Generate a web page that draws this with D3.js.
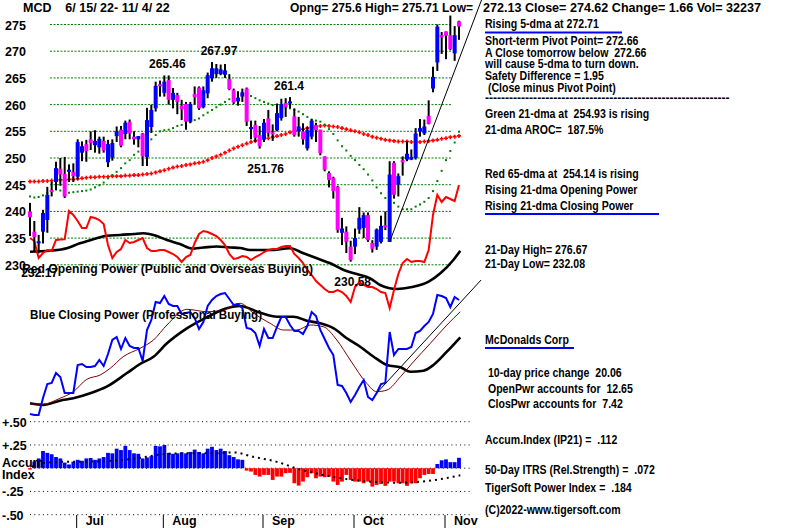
<!DOCTYPE html>
<html>
<head>
<meta charset="utf-8">
<script src="https://cdnjs.cloudflare.com/ajax/libs/d3/7.8.5/d3.min.js"></script>
<style>
  body { margin: 0; background: #fff; }
  svg text { font-family: "Liberation Sans", Arial, sans-serif; font-weight: bold; fill: #000; }
</style>
</head>
<body>
<svg></svg>
<script>
// MCD daily bars, 6/15/22 - 11/4/22 (100 trading days)
const opens = [240.0,236.2,234.1,236.2,238.4,244.0,245.5,248.0,247.0,247.4,
  247.4,246.5,251.0,252.6,253.5,252.4,252.0,253.2,249.2,250.1,
  254.1,255.3,254.5,256.8,254.0,253.5,254.6,250.2,255.8,259.3,
  263.8,262.2,264.6,260.9,261.8,259.8,260.1,256.8,262.0,263.2,
  259.5,262.1,264.9,265.7,265.7,265.6,264.8,262.7,260.6,261.5,
  263.0,255.4,256.2,254.3,253.5,257.4,254.8,255.2,257.5,260.3,
  260.2,257.8,255.0,255.0,251.8,254.0,256.2,255.3,250.3,247.2,
  246.3,244.6,236.0,236.2,233.4,233.4,236.6,236.9,239.3,234.1,
  233.4,234.3,237.4,234.3,249.1,245.0,249.6,249.7,249.7,250.0,
  255.0,254.6,257.9,263.0,267.9,273.0,273.7,273.0,269.6,275.6]
const highs = [241.6,238.2,235.6,240.3,244.6,245.6,249.3,250.0,250.2,248.8,
  249.0,253.5,253.1,253.4,255.0,255.2,254.0,254.0,253.4,253.5,
  255.9,256.0,257.0,257.2,255.0,254.1,254.7,259.4,260.0,264.3,
  264.5,265.46,265.46,263.1,262.2,260.9,260.5,260.5,263.4,263.4,
  263.4,266.0,267.97,267.6,267.5,267.6,265.7,263.0,262.5,263.0,
  263.2,257.0,257.0,256.0,257.3,259.0,256.3,260.2,261.1,261.2,
  261.4,259.3,257.7,256.5,255.8,257.3,256.6,255.3,250.3,247.5,
  246.5,244.8,238.8,237.2,234.5,236.8,240.8,239.8,239.8,234.6,
  236.8,239.2,240.0,249.4,249.4,247.1,250.3,253.1,251.6,255.6,
  257.3,257.2,260.8,267.1,275.0,273.6,273.7,276.67,274.7,275.71]
const lows = [235.4,232.5,232.17,234.0,236.0,242.8,244.0,244.8,242.5,245.5,
  245.5,246.0,249.4,249.3,251.5,251.0,250.8,251.0,248.3,249.5,
  253.0,252.0,253.5,253.5,252.5,252.0,248.5,248.5,254.7,258.7,
  261.5,261.5,260.0,259.3,258.2,257.1,255.3,256.5,260.0,259.0,
  259.3,261.2,264.3,265.0,265.5,265.0,262.7,260.1,259.8,260.5,
  256.0,253.5,253.0,251.76,253.0,254.0,253.2,255.0,257.0,257.7,
  259.3,254.0,254.0,252.5,251.4,253.5,253.0,250.5,247.5,244.5,
  242.4,236.0,233.7,232.2,230.58,232.0,235.8,235.0,234.3,232.3,
  232.8,234.0,236.5,234.3,242.4,242.8,246.7,249.4,249.6,249.7,
  254.0,254.3,256.3,262.3,266.3,269.5,268.5,270.2,268.2,272.13]
const closes = [238.9,235.2,234.4,239.7,243.1,243.7,248.1,246.9,242.8,247.8,
  246.6,253.0,252.2,251.3,252.8,253.2,253.6,251.4,252.6,252.8,
  255.0,252.3,256.6,254.6,253.5,254.1,250.3,257.1,259.0,263.5,
  263.5,264.3,260.9,262.2,260.5,259.1,256.8,260.1,261.4,259.3,
  262.7,265.5,266.8,266.8,266.6,266.4,262.9,260.4,261.3,262.3,
  256.8,255.8,253.8,252.2,256.6,254.7,254.5,258.4,260.1,259.5,
  260.6,254.3,255.9,253.5,255.2,257.0,255.2,250.9,247.8,245.9,
  243.8,236.5,236.8,234.3,230.9,235.0,238.8,239.3,234.6,233.0,
  236.6,237.3,237.1,246.9,243.1,246.6,249.2,250.8,250.2,254.6,
  255.6,255.9,256.4,265.2,274.6,272.6,272.9,270.4,273.0,274.62]

// moving averages (read per day)
const ma21 = [242.8,242.6,242.7,243.0,243.4,243.9,244.1,243.9,243.6,243.5,
  243.6,243.7,243.8,243.9,244.1,244.5,244.9,245.4,246.2,246.8,
  247.4,248.1,249.0,249.6,250.6,251.2,251.8,252.4,253.5,254.3,
  255.0,255.2,255.3,255.6,256.0,256.2,256.5,256.8,257.1,257.4,
  258.0,258.5,259.0,259.5,260.0,260.5,261.0,261.5,261.9,262.2,
  262.0,261.6,261.2,260.8,260.5,260.2,259.9,259.7,259.5,259.4,
  259.3,259.0,258.7,258.2,257.7,257.2,257.0,256.8,256.2,255.4,
  254.5,253.3,252.2,251.4,250.4,249.6,248.7,247.9,246.9,245.8,
  244.5,243.4,242.5,242.0,241.6,240.9,240.4,240.4,240.4,240.9,
  241.3,241.8,242.5,243.8,245.7,247.6,249.6,251.3,252.9,254.93]
const ma65 = [245.6,245.6,245.6,245.7,245.7,245.8,245.8,245.9,245.9,246.0,
  246.0,246.1,246.2,246.3,246.4,246.4,246.5,246.5,246.5,246.6,
  246.6,246.6,246.7,246.7,246.8,246.8,246.9,247.0,247.1,247.3,
  247.5,247.7,248.0,248.2,248.4,248.5,248.7,248.8,249.0,249.1,
  249.3,249.6,250.0,250.3,250.6,251.0,251.4,251.8,252.1,252.4,
  252.7,253.0,253.2,253.4,253.6,253.7,253.9,254.1,254.3,254.5,
  254.8,255.0,255.2,255.4,255.6,255.8,255.9,256.0,256.1,256.0,
  255.9,255.8,255.6,255.4,255.2,255.0,254.8,254.5,254.3,254.0,
  253.8,253.6,253.4,253.3,253.2,253.1,253.1,253.1,253.0,253.0,
  253.0,253.1,253.2,253.3,253.4,253.6,253.7,253.9,254.0,254.14]

// Red Opening Power and Blue Closing Power (relative units)
const openPower = [62,59,42,47,50,49,60,60.5,60.7,89,
  85,79,72,72,83,82,80,76,55,42,
  48,51,60,57,58,60,62,52,49,49,
  50,50,48,46,43,38,43,45,57,66,
  69,68,66,64,60,55,46,41,42,44,
  43,40,43,45,48,50,51,51,53,54,
  54,46,42,37,30,25,19,15,11,8,
  8,10,8,4,-2,13,18,15,13,13,
  11,8,7,-8,10,26,37,41,38,39,
  39,38,50,85,105,98,103,101,99,115]
const openPowerMA = [[0,48.3],[4.6,49.3],[8.5,51.7],[11.5,56.7],[14.6,60.7],[17.7,64.3],
  [20.8,65],[23.9,66],[26.2,66.7],[28.5,65],[31.6,60],[34.6,56],[37.3,51.5],[40,52.5],
  [43.1,53.5],[46.2,52.5],[48.5,52],[50.8,50],[55.4,50],[60,51.7],[63.1,46.7],[66.2,41.7],
  [69.3,36.7],[72.4,30],[75.4,26],[78.5,21.7],[80.8,15],[84.7,11],[87.8,12.7],[92,18.3],
  [94.7,26.7],[97.7,40],[99.3,49.3]]
const closePower = [16,15,15,32,46,47,57,53,37,37,
  37,65,66,63,63,64,70,64,76,90,
  93,81,92,84,82,82,69,100,110,128,
  127,134,126,124,124,116,117,118,112,101,
  108,124,130,134,136,137,131,125,126,122,
  102,101,97,84,101,92,92,103,113,113,
  105,99,99,96,104,118,114,100,91,82,
  75,45,44,37,28,35,43,50,33,30,
  37,46,47,98,75,81,81,81,83,97,
  99,104,108,116,135,134,132,123,133,130]
const closePowerFast = [[0,26],[3.1,26],[6.9,31.7],[10,38.3],[13.1,50.7],[16.2,55],
  [18.5,61.7],[21.5,73.3],[25.4,81.7],[28.5,90],[31.6,105],[36.2,120.7],[40.8,118.3],
  [44.6,120],[48.5,126.7],[51.6,116.7],[55.4,106.7],[58.5,100],[61.6,100],[64.7,105],
  [67.7,103.3],[70.8,90],[73.9,70],[77.7,46.7],[80,38.3],[82.4,40],[85.5,53.3],
  [88.5,68.3],[92.4,86.7],[96.2,105],[99.3,118.3]]
const closePowerSlow = [[0,26.7],[3.1,25],[6.9,29.3],[10,31.7],[13.9,36.7],[17.7,43.3],
  [22.3,56.7],[25.4,66],[28.5,73.3],[31.6,86.7],[36.2,101.7],[40.8,112.7],[45.4,121.7],
  [48.5,124],[53.1,117.3],[57,113.3],[60.8,113.3],[63.9,109.3],[67,106.7],[70.1,101.7],
  [73.1,91.7],[76.2,83.3],[79.3,73.3],[82.4,65],[85.5,62.7],[87.8,58.3],[90.8,59.3],
  [93.1,65],[96.2,78.3],[99.3,92.7]]

// trend lines [day, value]
const priceTrend = [[83, 234.3], [104.2, 279.6]]
const powerTrend = [[80.3, 38.3], [104.1, 150]]

// Accumulation Index (IP21)
const accum = [-0.015,0.07,0.105,0.185,0.165,0.15,0.12,0.105,0.06,0.04,
  0.07,0.09,0.08,0.105,0.11,0.09,0.105,0.12,0.165,0.16,
  0.21,0.195,0.24,0.195,0.16,0.155,0.105,0.115,0.13,0.24,
  0.235,0.25,0.165,0.155,0.16,0.17,0.16,0.175,0.2,0.175,
  0.16,0.21,0.23,0.195,0.21,0.185,0.14,0.12,0.095,0.09,
  -0.026,-0.036,-0.072,-0.09,-0.072,-0.072,-0.126,-0.09,-0.09,-0.054,
  -0.05,-0.162,-0.187,-0.144,-0.097,-0.054,-0.108,-0.09,-0.097,-0.09,
  -0.144,-0.18,-0.144,-0.072,-0.126,-0.144,-0.144,-0.162,-0.144,-0.198,
  -0.18,-0.169,-0.19,-0.144,-0.144,-0.162,-0.162,-0.19,-0.162,-0.162,
  -0.108,-0.072,-0.062,-0.062,0.045,0.085,0.095,0.065,0.065,0.112]
const accumMA = [[0.4,0.015],[3,0.055],[9.2,0.07],[12.2,0.07],[23.8,0.1],[30.7,0.15],
  [36.2,0.16],[42.3,0.16],[47,0.17],[51.5,0.123],[57,0.068],[61.6,-0.003],[66.2,-0.058],
  [70.8,-0.101],[75.4,-0.13],[80,-0.149],[85.4,-0.156],[91.6,-0.138],[95.4,-0.112],[99.3,-0.076]]

const priceTicks = [275, 270, 265, 260, 255, 250, 245, 240, 235, 230]
const accumTicks = [0.5, 0.25, 0, -0.25, -0.5]
const accumTickLabels = ['+.50', '+.25', '', '-.25', '-.50']
const months = ['Jul', 'Aug', 'Sep', 'Oct', 'Nov']
const monthStart = [11, 31, 54, 75, 96]

const peakLabels = [
  { day: 31, price: 265.46, text: '265.46', pos: 'above', dx: 3 },
  { day: 42, price: 267.97, text: '267.97', pos: 'above', dx: 7 },
  { day: 60, price: 261.4, text: '261.4', pos: 'above', dx: -1 },
  { day: 53, price: 251.76, text: '251.76', pos: 'below', dx: 6 },
  { day: 2, price: 232.17, text: '232.17', pos: 'below', dx: 1 },
  { day: 74, price: 230.58, text: '230.58', pos: 'below', dx: 2 }
]

const headerLeft = 'MCD    6/ 15/ 22- 11/ 4/ 22'
const headerMid = 'Opng= 275.6 High= 275.71 Low='
const headerRight = '272.13 Close= 274.62 Change= 1.66 Vol= 32237'

const sideLines = [
  { y: 28.5, t: 'Rising 5-dma at 272.71', u: 622 },
  { y: 45, t: 'Short-term Pivot Point= 272.66' },
  { y: 57, t: 'A Close tomorrow below  272.66' },
  { y: 68.5, t: 'will cause 5-dma to turn down.' },
  { y: 80.5, t: 'Safety Difference = 1.95' },
  { y: 92.5, t: ' (Close minus Pivot Point)' },
  { y: 118, t: 'Green 21-dma at  254.93 is rising' },
  { y: 134, t: '21-dma AROC=  187.5%' },
  { y: 178, t: 'Red 65-dma at  254.14 is rising' },
  { y: 194.5, t: 'Rising 21-dma Opening Power' },
  { y: 210, t: 'Rising 21-dma Closing Power', u: 659 },
  { y: 254.5, t: '21-Day High= 276.67' },
  { y: 268, t: '21-Day Low= 232.08' },
  { y: 344, t: 'McDonalds Corp', u: 574 },
  { y: 377.5, t: ' 10-day price change  20.06' },
  { y: 393, t: ' OpenPwr accounts for  12.65' },
  { y: 408.5, t: ' ClosPwr accounts for  7.42' },
  { y: 444.5, t: 'Accum.Index (IP21) =  .112' },
  { y: 474.5, t: '50-Day ITRS (Rel.Strength) =  .072' },
  { y: 492.5, t: 'TigerSoft Power Index =  .184' },
  { y: 514.5, t: '(C)2022-www.tigersoft.com' }
]

// ---------- setup ----------
let width = 800
let height = 528
let svg = d3.select('svg').attr('width', width).attr('height', height)

let xScale = d3.scaleLinear().domain([0, 99]).range([30, 459])
let yScale = d3.scaleLinear().domain([230, 275]).range([264.8, 24.5])
let opScale = d3.scaleLinear().domain([0, 100]).range([300, 200])
let cpScale = d3.scaleLinear().domain([0, 100]).range([430, 330])
let accScale = d3.scaleLinear().domain([-0.5, 0.5]).range([514.7, 421.7])

// price grid
svg.append('g').selectAll('line').data(priceTicks).enter().append('line')
  .attr('x1', 50).attr('x2', 452)
  .attr('y1', d => yScale(d)).attr('y2', d => yScale(d))
  .attr('stroke', '#008000').attr('stroke-dasharray', '2,1.5')

svg.append('g').selectAll('text').data(priceTicks).enter().append('text')
  .attr('x', 5).attr('y', d => yScale(d) + 5)
  .style('font-size', '12.5px')
  .text(d => d)

// 65-dma red crosses
svg.append('g').selectAll('path').data(ma65).enter().append('path')
  .attr('d', (d, i) => {
    let x = xScale(i), y = yScale(d)
    return 'M' + (x - 2) + ',' + y + 'H' + (x + 2) + 'M' + x + ',' + (y - 2) + 'V' + (y + 2)
  })
  .attr('stroke', '#ff0000').attr('stroke-width', 1.6)

// 21-dma green dots
svg.append('g').selectAll('rect').data(ma21).enter().append('rect')
  .attr('x', (d, i) => xScale(i) - 1).attr('y', d => yScale(d) - 1)
  .attr('width', 2).attr('height', 2)
  .attr('fill', '#008000')

// opening power
let idxLine = scale => d3.line().x((d, i) => xScale(i)).y(d => scale(d))
let ptLine = scale => d3.line().x(d => xScale(d[0])).y(d => scale(d[1])).curve(d3.curveMonotoneX)

svg.append('path').datum(openPowerMA).attr('d', ptLine(opScale))
  .attr('fill', 'none').attr('stroke', '#000').attr('stroke-width', 2.6)
svg.append('path').datum(openPower).attr('d', idxLine(opScale))
  .attr('fill', 'none').attr('stroke', '#ff0000').attr('stroke-width', 2)

// closing power
svg.append('path').datum(closePowerSlow).attr('d', ptLine(cpScale))
  .attr('fill', 'none').attr('stroke', '#000').attr('stroke-width', 2.6)
svg.append('path').datum(closePowerFast).attr('d', ptLine(cpScale))
  .attr('fill', 'none').attr('stroke', '#800000').attr('stroke-width', 1)
svg.append('path').datum(closePower).attr('d', idxLine(cpScale))
  .attr('fill', 'none').attr('stroke', '#0000ff').attr('stroke-width', 2)

// candles
let candles = svg.append('g').selectAll('g').data(closes).enter().append('g')
candles.append('rect')
  .attr('x', (d, i) => xScale(i) - 1).attr('width', 2)
  .attr('y', (d, i) => yScale(highs[i]))
  .attr('height', (d, i) => Math.max(1, yScale(lows[i]) - yScale(highs[i])))
  .attr('fill', '#000')
candles.append('rect')
  .attr('x', (d, i) => xScale(i) - 2).attr('width', 4)
  .attr('y', (d, i) => yScale(Math.max(opens[i], d)))
  .attr('height', (d, i) => Math.max(2, Math.abs(yScale(opens[i]) - yScale(d))))
  .attr('fill', (d, i) => d >= opens[i] ? '#0000ff' : '#ff00ff')

// trend lines
let trendLine = scale => d3.line().x(d => xScale(d[0])).y(d => scale(d[1]))
svg.append('path').datum(priceTrend).attr('d', trendLine(yScale))
  .attr('stroke', '#000').attr('stroke-width', 1).attr('fill', 'none')
svg.append('path').datum(powerTrend).attr('d', trendLine(cpScale))
  .attr('stroke', '#000').attr('stroke-width', 1).attr('fill', 'none')

// peak / trough labels
svg.append('g').selectAll('text').data(peakLabels).enter().append('text')
  .attr('x', d => xScale(d.day) + d.dx)
  .attr('y', d => d.pos === 'above' ? yScale(d.price) - 7 : yScale(d.price) + 24)
  .attr('text-anchor', 'middle')
  .style('font-size', '12px')
  .text(d => d.text)

svg.append('text').attr('x', 22).attr('y', 273).style('font-size', '12.5px')
  .attr('textLength', 291).attr('lengthAdjust', 'spacingAndGlyphs')
  .text('Red Opening Power (Public and Overseas Buying)')
svg.append('text').attr('x', 30).attr('y', 319).style('font-size', '12.5px')
  .attr('textLength', 232).attr('lengthAdjust', 'spacingAndGlyphs')
  .text('Blue Closing Power (Professional Buying)')

// accumulation panel
svg.append('g').selectAll('line').data(accumTicks).enter().append('line')
  .attr('x1', 30).attr('x2', 472)
  .attr('y1', d => accScale(d)).attr('y2', d => accScale(d))
  .attr('stroke', '#000').attr('stroke-dasharray', '1,3.3')

svg.append('g').selectAll('rect').data(accum).enter().append('rect')
  .attr('x', (d, i) => xScale(i) - 1.9).attr('width', 3.8)
  .attr('y', d => accScale(Math.max(0, d)))
  .attr('height', d => Math.abs(accScale(d) - accScale(0)))
  .attr('fill', d => d >= 0 ? '#0000ff' : '#ff0000')

svg.append('path').datum(accumMA)
  .attr('d', d3.line().x(d => xScale(d[0])).y(d => accScale(d[1])).curve(d3.curveMonotoneX))
  .attr('fill', 'none').attr('stroke', '#000').attr('stroke-width', 2)
  .attr('stroke-dasharray', '2,4')

svg.append('g').selectAll('text').data(accumTicks).enter().append('text')
  .attr('x', 2).attr('y', d => accScale(d) + 5)
  .style('font-size', '12.5px')
  .text((d, i) => accumTickLabels[i])
svg.append('text').attr('x', 2).attr('y', 467).style('font-size', '12.5px').text('Accum')
svg.append('text').attr('x', 2).attr('y', 479).style('font-size', '12.5px').text('Index')

// month axis
let monthG = svg.append('g').selectAll('g').data(months).enter().append('g')
monthG.append('line')
  .attr('x1', (d, i) => xScale(monthStart[i]) - 1).attr('x2', (d, i) => xScale(monthStart[i]) - 1)
  .attr('y1', 515).attr('y2', 528)
  .attr('stroke', '#000').attr('stroke-width', 1)
monthG.append('text')
  .attr('x', (d, i) => xScale(monthStart[i]) + 8).attr('y', 525)
  .style('font-size', '12.5px')
  .text(d => d)

// header
svg.append('text').attr('x', 23).attr('y', 11.5).style('font-size', '12.5px')
  .style('white-space', 'pre').text(headerLeft)
svg.append('text').attr('x', 290).attr('y', 11.5).style('font-size', '12.5px')
  .attr('textLength', 183).attr('lengthAdjust', 'spacingAndGlyphs').text(headerMid)
svg.append('text').attr('x', 483).attr('y', 11.5).style('font-size', '12.5px')
  .attr('textLength', 278).attr('lengthAdjust', 'spacingAndGlyphs').text(headerRight)

// right-hand info panel (condensed horizontally like the original font)
let side = svg.append('g').attr('transform', 'translate(485,0) scale(0.88,1)')
side.selectAll('text').data(sideLines).enter().append('text')
  .attr('x', 0).attr('y', d => d.y)
  .style('font-size', '12px').style('white-space', 'pre')
  .text(d => d.t)
side.append('text').attr('x', 0).attr('y', 102).style('font-size', '12px')
  .attr('textLength', 278).attr('lengthAdjust', 'spacingAndGlyphs')
  .text('-'.repeat(61))
svg.append('g').selectAll('line').data(sideLines.filter(d => d.u)).enter().append('line')
  .attr('x1', 485).attr('x2', d => d.u)
  .attr('y1', d => d.y + 4).attr('y2', d => d.y + 4)
  .attr('stroke', '#0000ff').attr('stroke-width', 2)
</script>
</body>
</html>
